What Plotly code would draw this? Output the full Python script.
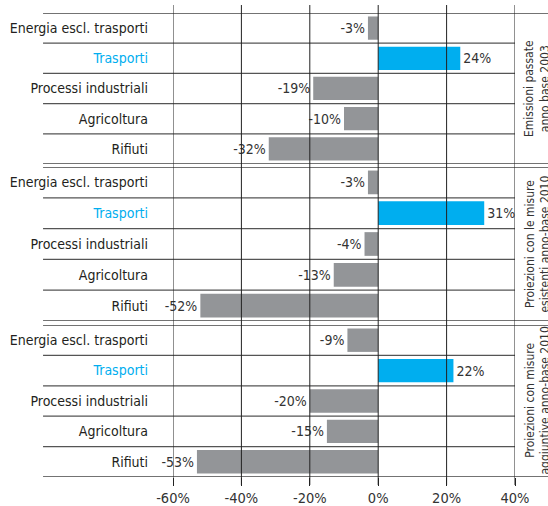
import plotly.graph_objects as go
from plotly.subplots import make_subplots

# Data
categories = ["Energia escl. trasporti", "Trasporti", "Processi industriali", "Agricoltura", "Rifiuti"]
emissioni_passate = [-3, 24, -19, -10, -32]
misure_esistenti = [-3, 31, -4, -13, -52]
misure_aggiuntive = [-9, 22, -20, -15, -53]
panel_titles = [
    "Emissioni passate<br>anno base 2003",
    "Proiezioni con le misure<br>esistenti anno-base 2010",
    "Proiezioni con misure<br>aggiuntive anno-base 2010",
]
x_ticks = [-60, -40, -20, 0, 20, 40]

FONT = "Liberation Sans Narrow, Arial Narrow, DejaVu Sans Condensed, sans-serif"
GRAY = "#939598"
BLUE = "#00aeef"
TXT = "#333333"

panels = [emissioni_passate, misure_esistenti, misure_aggiuntive]
# vertical domains of the three panels (paper coords)
domains = [[0.6746, 1.0], [0.3362, 0.6681], [0.0, 0.3276]]

fig = make_subplots(rows=3, cols=1, shared_xaxes=True)

tick_text = [f"<span style='color:{BLUE}'>{c}</span>" if c == "Trasporti" else c for c in categories]

for i, values in enumerate(panels):
    colors = [BLUE if c == "Trasporti" else GRAY for c in categories]
    fig.add_trace(go.Bar(
        x=values, y=categories, orientation="h",
        marker=dict(color=colors, line_width=0),
        text=[f"{v}%" for v in values],
        textposition="outside",
        textfont=dict(family=FONT, size=14, color=TXT),
        cliponaxis=False,
        constraintext="none",
        hoverinfo="none",
        showlegend=False,
    ), row=i + 1, col=1)

    yname = "yaxis" if i == 0 else f"yaxis{i + 1}"
    xname = "xaxis" if i == 0 else f"xaxis{i + 1}"
    fig.update_layout({
        yname: dict(
            domain=domains[i],
            range=[4.5, -0.5],
            tickvals=categories,
            ticktext=tick_text,
            tickfont=dict(family=FONT, size=14, color="#231f20"),
            ticklabelstandoff=24,
            automargin=False,
            showgrid=False, zeroline=False, showline=False,
        ),
        xname: dict(
            range=[-60, 40],
            showgrid=False, zeroline=False, showline=False,
            tickvals=x_ticks,
            ticktext=[f"{v}%" for v in x_ticks],
            showticklabels=(i == 2),
            tickfont=dict(family=FONT, size=14.5, color=TXT),
            ticks="outside" if i == 2 else "",
            ticklen=8, tickcolor="#222", tickwidth=1,
            automargin=False,
        ),
    })

    yref = "y" if i == 0 else f"y{i + 1}"
    # row separators
    for k in range(4):
        fig.add_shape(type="line", xref="paper", yref=yref,
                      x0=-0.38, x1=1.0, y0=k + 0.5, y1=k + 0.5,
                      line=dict(color="#555", width=1.3), layer="above")
    # panel edges
    for yy in [-0.5, 4.5]:
        fig.add_shape(type="line", xref="paper", yref=yref,
                      x0=-0.38, x1=1.0965, y0=yy, y1=yy,
                      line=dict(color="#444", width=1.3), layer="above")

    # panel title on the right
    fig.add_annotation(
        xref="paper", yref="paper",
        x=1.066, y=sum(domains[i]) / 2,
        text=panel_titles[i], textangle=-90,
        showarrow=False, xanchor="center", yanchor="middle",
        font=dict(family=FONT, size=12, color=TXT),
    )

# vertical grid lines drawn over the bars
for v in x_ticks:
    fig.add_shape(type="line", xref="x", yref="paper",
                  x0=v, x1=v, y0=-0.0172, y1=1.0172,
                  line=dict(color="#222", width=1), layer="above")

fig.update_layout(
    width=548, height=506,
    margin=dict(l=173, r=33, t=13, b=29, autoexpand=False),
    paper_bgcolor="white", plot_bgcolor="white",
    bargap=0.23,
    font=dict(family=FONT, color=TXT),
    showlegend=False,
)

# drop the default page margin so the figure sits at the window corner
fig.write_html("out.html", config={"displayModeBar": False},
               post_script="document.body.style.margin='0';")
